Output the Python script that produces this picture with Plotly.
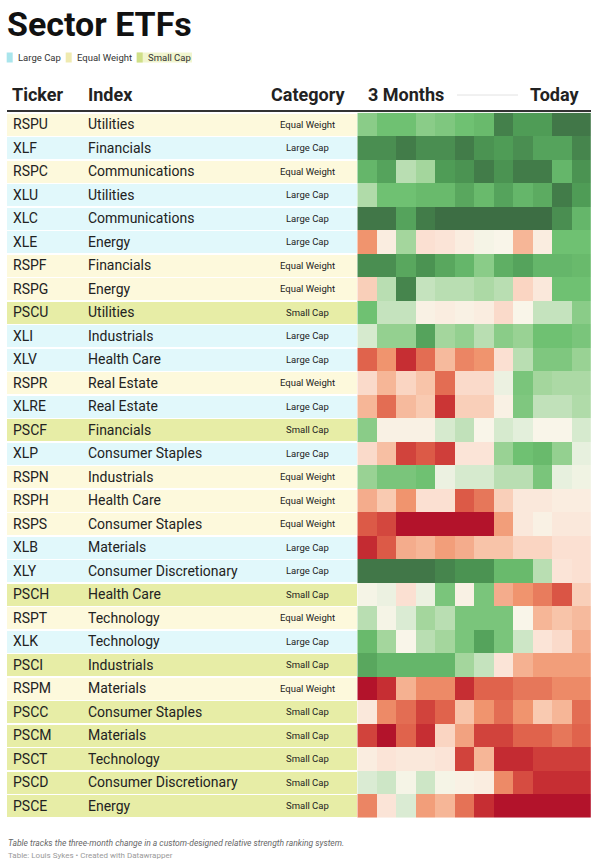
import plotly.graph_objects as go

W, H = 598, 860

tickers = ["RSPU", "XLF", "RSPC", "XLU", "XLC", "XLE", "RSPF", "RSPG", "PSCU", "XLI",
           "XLV", "RSPR", "XLRE", "PSCF", "XLP", "RSPN", "RSPH", "RSPS", "XLB", "XLY",
           "PSCH", "RSPT", "XLK", "PSCI", "RSPM", "PSCC", "PSCM", "PSCT", "PSCD", "PSCE"]
indexes = ["Utilities", "Financials", "Communications", "Utilities", "Communications", "Energy",
           "Financials", "Energy", "Utilities", "Industrials", "Health Care", "Real Estate",
           "Real Estate", "Financials", "Consumer Staples", "Industrials", "Health Care",
           "Consumer Staples", "Materials", "Consumer Discretionary", "Health Care", "Technology",
           "Technology", "Industrials", "Materials", "Consumer Staples", "Materials", "Technology",
           "Consumer Discretionary", "Energy"]
categories = ["Equal Weight", "Large Cap", "Equal Weight", "Large Cap", "Large Cap", "Large Cap",
              "Equal Weight", "Equal Weight", "Small Cap", "Large Cap", "Large Cap", "Equal Weight",
              "Large Cap", "Small Cap", "Large Cap", "Equal Weight", "Equal Weight", "Equal Weight",
              "Large Cap", "Large Cap", "Small Cap", "Equal Weight", "Large Cap", "Small Cap",
              "Equal Weight", "Small Cap", "Small Cap", "Small Cap", "Small Cap", "Small Cap"]
periods = ["W-11", "W-10", "W-9", "W-8", "W-7", "W-6", "W-5", "W-4", "W-3", "W-2", "W-1", "W0"]

# relative strength score (-5 weakest ... +5 strongest)
strength = [
    [2.5, 3.0, 3.0, 2.5, 2.7, 3.0, 3.2, 4.6, 4.0, 4.0, 4.8, 4.8],      # RSPU
    [4.3, 4.3, 4.7, 4.3, 4.3, 4.7, 4.2, 4.0, 4.3, 3.8, 3.8, 4.5],      # XLF
    [3.3, 3.8, 1.5, 2.0, 4.0, 4.2, 4.7, 4.2, 4.7, 4.7, 3.3, 4.2],      # RSPC
    [1.7, 3.0, 3.0, 3.2, 3.2, 3.7, 3.2, 3.8, 3.3, 3.6, 4.7, 4.0],      # XLU
    [4.8, 4.8, 3.8, 4.7, 5.0, 5.0, 5.0, 5.0, 5.0, 5.0, 4.3, 3.3],      # XLC
    [-2.0, -0.2, 2.0, -0.5, -0.4, -0.2, 0.1, 0.0, -1.3, -0.2, 3.0, 3.0],  # XLE
    [4.3, 4.3, 3.7, 4.2, 3.7, 3.3, 2.5, 3.5, 3.8, 3.3, 3.3, 3.2],      # RSPF
    [-0.8, 1.5, 4.5, 1.2, 1.5, 1.5, 1.8, 1.5, -0.7, -0.3, 3.0, 3.0],   # RSPG
    [3.0, 1.2, 1.2, -0.1, -0.2, -0.1, -0.2, -0.6, 0.0, 1.2, 1.2, 2.5], # PSCU
    [0.8, 2.3, 2.3, 3.8, 2.0, 2.3, 1.5, 2.5, 2.2, 3.0, 3.0, 2.8],      # XLI
    [-3.0, -2.0, -4.2, -2.8, -1.2, -2.3, -2.0, -0.5, 1.5, 2.7, 2.7, 2.2],  # XLV
    [-0.6, -1.3, -0.7, -1.0, -2.8, -0.6, -0.6, 0.3, 2.8, 2.0, 1.8, 1.8],   # RSPR
    [-1.3, -2.8, -1.2, -0.9, -4.0, -0.8, -0.8, -0.1, 2.7, 1.3, 1.3, 1.7],  # XLRE
    [2.5, -0.1, -0.1, -0.1, 0.8, 1.3, 0.0, 0.8, 0.5, 0.0, 0.0, 0.8],       # PSCF
    [-0.6, -1.1, -3.7, -3.2, -3.8, -0.4, -0.4, 2.2, 3.0, 3.2, 2.3, 0.4],   # XLP
    [2.2, 2.8, 2.8, 3.0, 0.3, 0.8, 0.8, 1.5, 1.5, 2.8, 0.4, 0.2],          # RSPN
    [-1.5, -0.9, -2.0, -0.5, -0.5, -3.2, -2.6, -0.8, -0.3, -0.3, -0.2, -0.2],  # RSPH
    [-3.2, -3.6, -5.0, -5.0, -5.0, -5.0, -5.0, -1.8, -0.3, -0.1, -0.3, -0.3],  # RSPS
    [-4.3, -3.2, -1.5, -1.3, -1.8, -1.5, -1.0, -1.0, -0.7, -0.7, -0.5, -0.5],  # XLB
    [4.8, 4.8, 4.8, 4.8, 4.5, 4.2, 4.2, 3.2, 3.2, 1.5, -0.4, -0.5],        # XLY
    [0.1, 0.3, -0.5, 0.3, 2.8, -0.1, 2.8, -1.5, -2.0, -2.5, -3.3, -0.8],   # PSCH
    [1.5, 0.1, 0.7, 2.0, 1.5, 2.8, 2.8, 2.8, 0.0, -1.3, -1.0, -1.2],       # RSPT
    [3.2, 2.0, 0.0, 1.5, 2.0, 2.8, 3.8, 2.8, 1.0, -0.4, -0.6, -1.5],       # XLK
    [3.7, 3.3, 3.3, 3.3, 3.3, 2.0, 1.2, -0.4, -1.4, -1.8, -1.8, -1.8],     # PSCI
    [-5.0, -4.2, -1.4, -2.2, -2.2, -4.2, -3.0, -3.0, -2.6, -2.6, -2.2, -2.2],  # RSPM
    [-0.3, -2.2, -2.8, -3.7, -3.0, -1.0, -2.0, -2.8, -2.0, -0.9, -1.3, -2.8],  # PSCC
    [-3.7, -5.0, -3.0, -4.2, -0.7, -1.7, -3.7, -3.7, -3.0, -3.0, -2.6, -3.0],  # PSCM
    [-0.2, -0.4, -0.3, -0.3, -0.4, -3.7, -1.3, -4.3, -4.3, -3.8, -3.8, -3.8],  # PSCT
    [0.7, 1.0, 0.1, 1.0, 0.1, -0.1, -0.2, -2.2, -3.5, -4.2, -4.2, -4.2],   # PSCD
    [-2.3, -0.4, 0.7, -1.8, -1.3, -2.7, -4.2, -5.0, -5.0, -5.0, -5.0, -5.0],   # PSCE
]

legend_labels = ["Large Cap", "Equal Weight", "Small Cap"]
row_fill = {"Large Cap": "#e1f8fb", "Equal Weight": "#fdf9dc", "Small Cap": "#e7eda6"}
legend_swatch = {"Large Cap": "#a9e5ec", "Equal Weight": "#efeab0", "Small Cap": "#cfdf88"}

colorscale = [
    [0.00, "#b3132b"], [0.10, "#cb3535"], [0.20, "#e0634c"], [0.30, "#f0946e"],
    [0.40, "#f8c4a9"], [0.45, "#fbe0d2"], [0.50, "#f9f5e9"], [0.55, "#e3efdb"],
    [0.60, "#cde6c6"], [0.70, "#a4d69d"], [0.80, "#6fc172"], [0.90, "#4f9c56"],
    [1.00, "#3d6e44"],
]

def px_x(v):
    return v / W

def px_y(v):
    return 1 - v / H

TOP, BOT = 112.7, 817.7
HM_L, HM_R = 357.3, 590.8
TXT = "#222222"
FONT = "Roboto"

fig = go.Figure()

# row backgrounds (horizontal bars on left part)
fig.add_trace(go.Bar(
    x=[1] * len(tickers), y=tickers, orientation="h",
    marker=dict(color=[row_fill[c] for c in categories], line=dict(width=0)),
    width=0.955, xaxis="x2", yaxis="y", hoverinfo="skip", showlegend=False,
))

# heatmap
fig.add_trace(go.Heatmap(
    z=strength, x=periods, y=tickers, colorscale=colorscale, zmin=-5, zmax=5,
    showscale=False, hoverinfo="skip", xaxis="x", yaxis="y", xgap=0, ygap=0,
))

annotations = []
for t, ix, c in zip(tickers, indexes, categories):
    annotations.append(dict(text=t, x=px_x(11), y=t, xref="paper", yref="y",
                            xanchor="left", yanchor="middle", showarrow=False,
                            font=dict(family=FONT, size=14, color=TXT)))
    annotations.append(dict(text=ix, x=px_x(86), y=t, xref="paper", yref="y",
                            xanchor="left", yanchor="middle", showarrow=False,
                            font=dict(family=FONT, size=14, color=TXT)))
    annotations.append(dict(text=c, x=px_x(307), y=t, xref="paper", yref="y",
                            xanchor="center", yanchor="middle", showarrow=False,
                            font=dict(family=FONT, size=9.5, color=TXT)))

# title
annotations.append(dict(text="Sector ETFs", x=px_x(5), y=px_y(24.5), xref="paper", yref="paper",
                        xanchor="left", yanchor="middle", showarrow=False,
                        font=dict(family=FONT, size=34, color="#111111", weight=700)))

# headers
hdr_y = px_y(94)
for txt, xx, anc in [("Ticker", 10, "left"), ("Index", 86, "left"), ("Category", 347, "right"),
                     ("3 Months", 366, "left"), ("Today", 581, "right")]:
    annotations.append(dict(text=txt, x=px_x(xx), y=hdr_y, xref="paper", yref="paper",
                            xanchor=anc, yanchor="middle", showarrow=False,
                            font=dict(family=FONT, size=18, color="#222222", weight=700)))

# legend
shapes = []
leg_pos = [(6.7, 16), (65.7, 75), (136.7, 145.5)]
shapes.append(dict(type="rect", xref="paper", yref="paper", x0=px_x(136.7), x1=px_x(192),
                   y0=px_y(62.5), y1=px_y(52.5), fillcolor="#f1f5cf", line=dict(width=0), layer="below"))
for lab, (sx, tx) in zip(legend_labels, leg_pos):
    shapes.append(dict(type="rect", xref="paper", yref="paper", x0=px_x(sx), x1=px_x(sx + 6),
                       y0=px_y(62.5), y1=px_y(52.5), fillcolor=legend_swatch[lab], line=dict(width=0)))
    annotations.append(dict(text=lab, x=px_x(tx), y=px_y(57.8), xref="paper", yref="paper",
                            xanchor="left", yanchor="middle", showarrow=False,
                            font=dict(family=FONT, size=9.5, color="#333333")))

# header rules
shapes.append(dict(type="line", xref="paper", yref="paper", x0=px_x(7), x1=px_x(591),
                   y0=px_y(111), y1=px_y(111), line=dict(color="#333333", width=2)))
shapes.append(dict(type="line", xref="paper", yref="paper", x0=px_x(457), x1=px_x(518),
                   y0=px_y(95), y1=px_y(95), line=dict(color="#e2e2e2", width=1)))

# footer
annotations.append(dict(text="<i>Table tracks the three-month change in a custom-designed relative strength ranking system.</i>",
                        x=px_x(6), y=px_y(843), xref="paper", yref="paper", xanchor="left",
                        yanchor="middle", showarrow=False,
                        font=dict(family=FONT, size=8.5, color="#666666")))
annotations.append(dict(text="Table: Louis Sykes • Created with Datawrapper",
                        x=px_x(6), y=px_y(855.5), xref="paper", yref="paper", xanchor="left",
                        yanchor="middle", showarrow=False,
                        font=dict(family=FONT, size=8, color="#9a9a9a")))

fig.update_layout(
    width=W, height=H, margin=dict(l=0, r=0, t=0, b=0),
    paper_bgcolor="white", plot_bgcolor="rgba(0,0,0,0)",
    xaxis=dict(domain=[px_x(HM_L), px_x(HM_R)], type="category", visible=False, fixedrange=True),
    xaxis2=dict(domain=[px_x(7), px_x(HM_L)], range=[0, 1], visible=False, anchor="y", fixedrange=True),
    yaxis=dict(domain=[px_y(BOT), px_y(TOP)], type="category", autorange="reversed",
               visible=False, fixedrange=True),
    annotations=annotations, shapes=shapes, bargap=0, showlegend=False,
)

fig.write_html("out.html", config={"displayModeBar": False},
               post_script="document.body.style.margin='0';document.body.style.overflow='hidden';")
